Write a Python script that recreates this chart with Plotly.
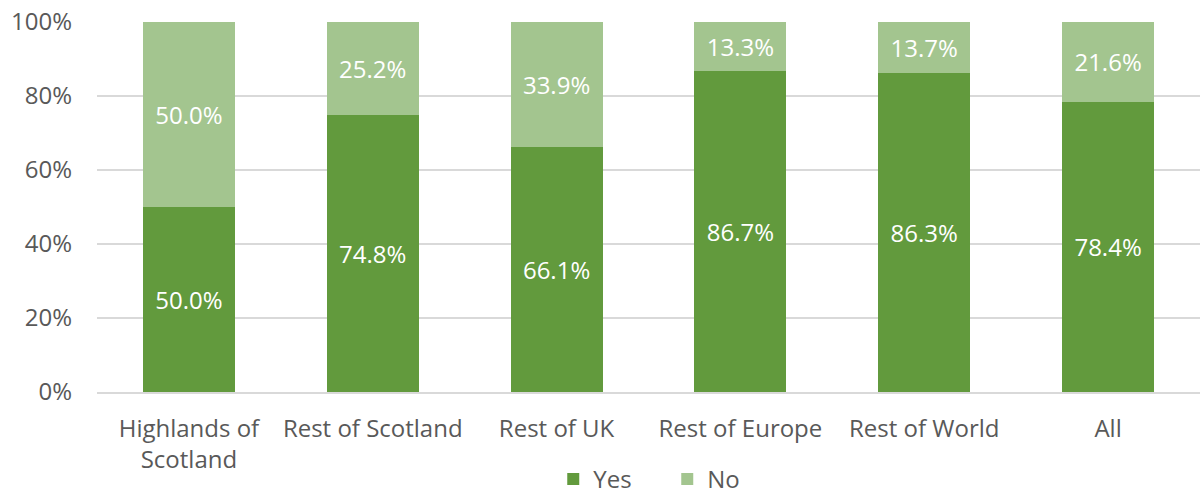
import plotly.graph_objects as go

categories = ["Highlands of<br>Scotland", "Rest of Scotland", "Rest of UK",
              "Rest of Europe", "Rest of World", "All"]
yes_pct = [50.0, 74.8, 66.1, 86.7, 86.3, 78.4]
no_pct = [50.0, 25.2, 33.9, 13.3, 13.7, 21.6]

FONT = "Open Sans, Liberation Sans, sans-serif"
GREY = "#595959"
SIZE = 24

fig = go.Figure()
fig.add_trace(go.Bar(
    name="Yes", x=categories, y=yes_pct,
    marker=dict(color="#629A3D", line=dict(width=0)),
    text=[f"{v:.1f}%" for v in yes_pct],
    textposition="inside", insidetextanchor="middle",
    textfont=dict(color="white", size=SIZE, family=FONT),
))
fig.add_trace(go.Bar(
    name="No", x=categories, y=no_pct,
    marker=dict(color="#A3C58F", line=dict(width=0)),
    text=[f"{v:.1f}%" for v in no_pct],
    textposition="inside", insidetextanchor="middle",
    textfont=dict(color="white", size=SIZE, family=FONT),
))

fig.update_layout(
    barmode="stack",
    bargap=0.5,
    width=1204, height=502,
    margin=dict(l=97, r=4, t=22, b=110, autoexpand=False),
    paper_bgcolor="white", plot_bgcolor="white",
    font=dict(family=FONT, color=GREY, size=SIZE),
    uniformtext=dict(minsize=SIZE, mode="show"),
    legend=dict(orientation="h", x=0.517, xanchor="center",
                yref="container", y=0.0, yanchor="bottom",
                font=dict(size=SIZE, color=GREY), traceorder="normal",
                entrywidth=69, entrywidthmode="pixels",
                itemwidth=30),
    showlegend=True,
)
fig.update_yaxes(range=[0, 100], tickvals=[0, 20, 40, 60, 80, 100],
                 ticktext=["0%", "20%", "40%", "60%", "80%", "100%"],
                 showgrid=True, gridcolor="#D9D9D9", gridwidth=1.5,
                 zeroline=False, ticks="", ticklabelstandoff=24)
fig.update_xaxes(showline=True, linecolor="#D9D9D9", linewidth=1.5,
                 ticks="", ticklabelstandoff=14)

fig.write_html("out.html")
